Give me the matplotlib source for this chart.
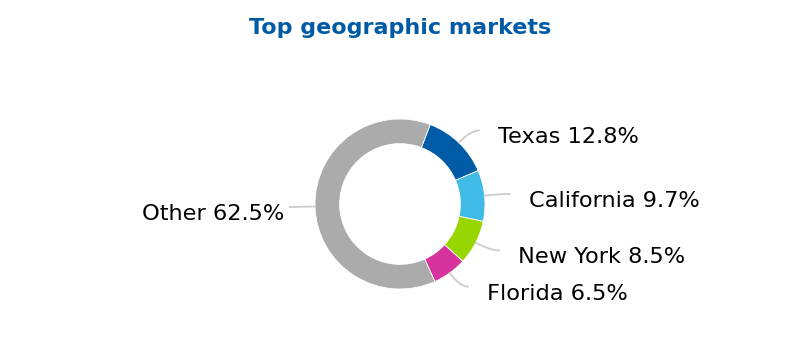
import numpy as np
import matplotlib.pyplot as plt

plt.rcParams['font.family'] = ['DejaVu Sans']

markets = ['Texas', 'California', 'New York', 'Florida', 'Other']
shares = [12.8, 9.7, 8.5, 6.5, 62.5]
colors = ['#005ba6', '#41bbe6', '#97d600', '#d6339e', '#ababab']

fig = plt.figure(figsize=(8, 3.52), dpi=100)
ax = fig.add_axes([0, 0, 1, 1])

px = 1 / 85  # one pixel in data units (pie radius = 85 px)
start = 69.2
wedges, _ = ax.pie(shares, colors=colors, startangle=start, counterclock=False,
                   radius=1.0, wedgeprops=dict(width=0.29, edgecolor='white', linewidth=0.6))

for w, name, val in zip(wedges, markets, shares):
    mid = np.deg2rad((w.theta1 + w.theta2) / 2)
    c, s = np.cos(mid), np.sin(mid)
    side = 1 if c >= 0 else -1
    p0 = np.array([c, s])
    y_end = 1.2 * s
    x_c = side * np.sqrt(1.2 ** 2 - y_end ** 2)
    end = np.array([x_c + side * 0.1, y_end])
    # control point where the radial line meets the label's row
    if abs(s) > 0.05:
        ctrl = np.array([y_end * c / s, y_end])
        if side * ctrl[0] > side * x_c:
            ctrl[0] = x_c
    else:
        ctrl = (p0 + end) / 2
    t = np.linspace(0, 1, 40)[:, None]
    curve = (1 - t) ** 2 * p0 + 2 * (1 - t) * t * ctrl + t ** 2 * end
    ax.plot(curve[:, 0], curve[:, 1], color='#cccccc', lw=1.3, solid_capstyle='round')
    gap = 19 * px if side > 0 else 5 * px
    ax.text(end[0] + side * gap, y_end - 13 * px, f'{name} {val}%',
            ha='left' if side > 0 else 'right', va='baseline', fontsize=16.2, color='black')

ax.set_xlim(-400 * px, 400 * px)
ax.set_ylim(-148 * px, 204 * px)
ax.set_aspect('equal')
ax.axis('off')

fig.text(0.5, 1 - 28 / 352, 'Top geographic markets', ha='center', va='center',
         fontsize=16, fontweight='bold', color='#005ba6')

fig.savefig('out.png', dpi=100)
